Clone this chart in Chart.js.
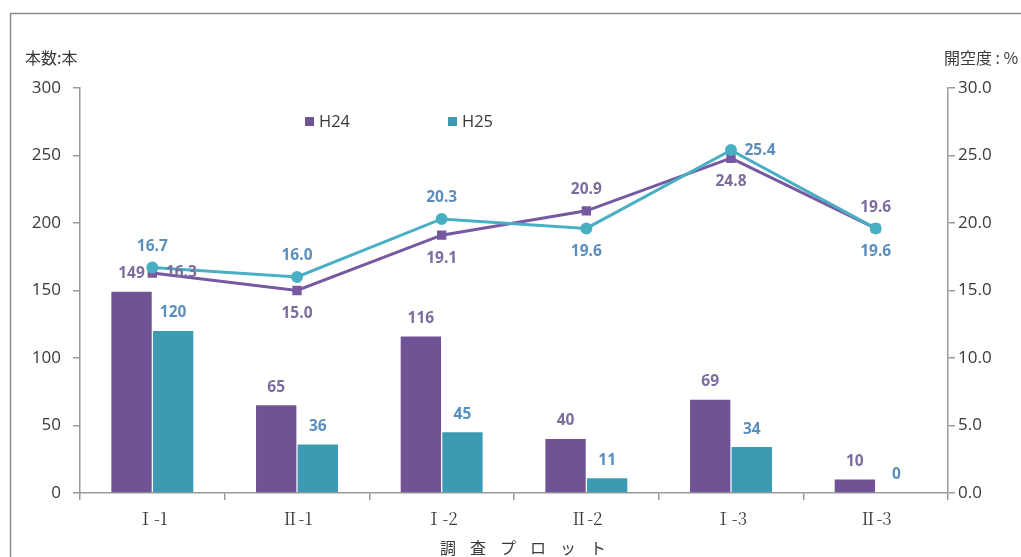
<!DOCTYPE html>
<html>
<head>
<meta charset="utf-8">
<script src="https://cdn.jsdelivr.net/npm/chart.js@4/dist/chart.umd.min.js"></script>
<style>
  html, body { margin: 0; padding: 0; background: #fff; }
  #wrap { width: 1021px; height: 557px; }
</style>
</head>
<body>
<div id="wrap"><canvas id="myChart"></canvas></div>
<script>
// 調査プロット別の本数と開空度
const plots = ['Ⅰ-1', 'Ⅱ-1', 'Ⅰ-2', 'Ⅱ-2', 'Ⅰ-3', 'Ⅱ-3'];
const countH24 = [149, 65, 116, 40, 69, 10];
const countH25 = [120, 36, 45, 11, 34, 0];
const openH24 = [16.3, 15.0, 19.1, 20.9, 24.8, 19.6];
const openH25 = [16.7, 16.0, 20.3, 19.6, 25.4, 19.6];
const leftTicks = [0, 50, 100, 150, 200, 250, 300];
const rightTicks = [0, 5, 10, 15, 20, 25, 30];

// where each line label sits relative to its point
const placeH24 = ['right', 'below', 'below', 'above', 'below', 'above'];
const placeH25 = ['above', 'above', 'above', 'below', 'right', 'below'];

const PURPLE_BAR = '#6f5394';
const TEAL_BAR = '#3c9bb3';
const PURPLE_LINE = '#7659a0';
const TEAL_LINE = '#49afc3';
const PURPLE_TXT = '#7d6d9f';
const BLUE_TXT = '#5a8fbd';
const AXIS = '#9a9a9a';
const TXT = '#3a3a3a';
const NUMFONT = '"Open Sans", "Noto Sans", sans-serif';
const JPFONT = '"Noto Sans CJK JP", sans-serif';

const decor = {
    id: 'decor',
    beforeDraw(chart) {
        const c = chart.ctx;
        c.save();
        c.strokeStyle = '#8c8c8c';
        c.lineWidth = 1.5;
        c.strokeRect(10.5, 13.5, 1100, 600);
        c.restore();
    },
    afterDatasetsDraw(chart) {
        const c = chart.ctx;
        c.save();
        c.textAlign = 'center';
        c.textBaseline = 'middle';
        c.font = 'bold 15.5px ' + NUMFONT;
        // bar labels
        [[0, countH24, PURPLE_TXT], [1, countH25, BLUE_TXT]].forEach(([di, vals, col]) => {
            const meta = chart.getDatasetMeta(di);
            c.fillStyle = col;
            meta.data.forEach((bar, i) => {
                c.fillText(String(vals[i]), bar.x, bar.y - 18);
            });
        });
        // line labels
        [[2, openH24, placeH24, PURPLE_TXT], [3, openH25, placeH25, BLUE_TXT]].forEach(([di, vals, place, col]) => {
            const meta = chart.getDatasetMeta(di);
            c.fillStyle = col;
            meta.data.forEach((pt, i) => {
                const txt = vals[i].toFixed(1);
                if (place[i] === 'right') c.fillText(txt, pt.x + 29, pt.y);
                else if (place[i] === 'above') c.fillText(txt, pt.x, pt.y - 21);
                else c.fillText(txt, pt.x, pt.y + 23);
            });
        });
        // legend
        c.textAlign = 'left';
        c.font = '16.5px ' + NUMFONT;
        [[305, PURPLE_BAR, 'H24'], [448, TEAL_BAR, 'H25']].forEach(([x, col, name]) => {
            c.fillStyle = col;
            c.fillRect(x, 117, 9, 9);
            c.fillStyle = TXT;
            c.fillText(name, x + 14, 122);
        });
        c.restore();
    },
    afterDraw(chart) {
        const c = chart.ctx;
        c.save();
        c.fillStyle = TXT;
        c.textBaseline = 'middle';
        c.font = '16px ' + JPFONT;
        c.textAlign = 'left';
        c.fillText('本数:本', 25, 58);
        c.fillText('開空度 : %', 944, 58);
        c.textAlign = 'center';
        c.font = '16px ' + JPFONT;
        const title = '調査プロット'.split('');
        title.forEach((ch, i) => c.fillText(ch, 448 + i * 30, 548));
        c.restore();
    }
};

const ctx = document.getElementById('myChart').getContext('2d');
const myChart = new Chart(ctx, {
    type: 'bar',
    data: {
        labels: plots,
        datasets: [
            { type: 'bar', label: 'H24', data: countH24, backgroundColor: PURPLE_BAR, yAxisID: 'y', order: 2,
              categoryPercentage: 0.575, barPercentage: 0.97 },
            { type: 'bar', label: 'H25', data: countH25, backgroundColor: TEAL_BAR, yAxisID: 'y', order: 2,
              categoryPercentage: 0.575, barPercentage: 0.97 },
            { type: 'line', label: 'H24 開空度', data: openH24, yAxisID: 'y1', order: 1,
              borderColor: PURPLE_LINE, backgroundColor: PURPLE_LINE, borderWidth: 3,
              pointStyle: 'rect', pointRadius: 4.5, tension: 0 },
            { type: 'line', label: 'H25 開空度', data: openH25, yAxisID: 'y1', order: 0,
              borderColor: TEAL_LINE, backgroundColor: TEAL_LINE, borderWidth: 3,
              pointStyle: 'circle', pointRadius: 4.5, tension: 0 }
        ]
    },
    options: {
        responsive: true,
        maintainAspectRatio: false,
        animation: false,
        layout: { padding: { top: 88, left: 0, right: 0, bottom: 0 } },
        plugins: { legend: { display: false }, tooltip: { enabled: false } },
        scales: {
            x: {
                grid: { offset: true, drawOnChartArea: false, tickLength: 7, color: AXIS, lineWidth: 1.5 },
                border: { color: AXIS, width: 1.5 },
                ticks: { color: TXT, font: { family: '"Noto Serif CJK JP", ' + JPFONT, size: 17 }, padding: 8 },
                afterFit: (s) => { s.height = 64; }
            },
            y: {
                position: 'left',
                min: 0, max: 300,
                afterBuildTicks: (s) => { s.ticks = leftTicks.map(v => ({ value: v })); },
                grid: { drawOnChartArea: false, tickLength: 7, color: AXIS, lineWidth: 1.5 },
                border: { color: AXIS, width: 1.5 },
                ticks: { color: TXT, font: { family: NUMFONT, size: 17 }, padding: 12 },
                afterFit: (s) => { s.width = 80; }
            },
            y1: {
                position: 'right',
                min: 0, max: 30,
                afterBuildTicks: (s) => { s.ticks = rightTicks.map(v => ({ value: v })); },
                grid: { drawOnChartArea: false, tickLength: 7, color: AXIS, lineWidth: 1.5 },
                border: { color: AXIS, width: 1.5 },
                ticks: { color: TXT, font: { family: NUMFONT, size: 17 }, padding: 3,
                         callback: (v) => Number(v).toFixed(1) },
                afterFit: (s) => { s.width = 73; }
            }
        }
    },
    plugins: [decor]
});
</script>
</body>
</html>
